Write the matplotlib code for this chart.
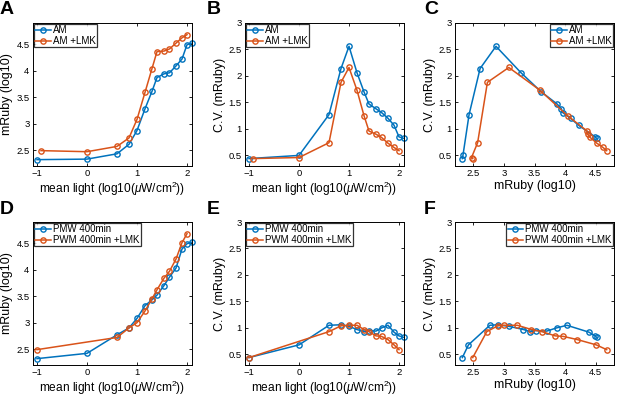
import matplotlib
matplotlib.use('Agg')
import matplotlib.pyplot as plt

plt.rcParams['font.family'] = ['Liberation Sans', 'DejaVu Sans']
plt.rcParams['mathtext.fontset'] = 'custom'
plt.rcParams['mathtext.it'] = 'Liberation Sans:italic'
plt.rcParams['mathtext.rm'] = 'Liberation Sans'

blue = '#0072BD'
orange = '#D95319'

# light levels (log10 uW/cm2)
light_am = [-1, 0, 0.6, 0.84, 1.0, 1.16, 1.3, 1.4, 1.54, 1.65, 1.78, 1.9, 2.0, 2.1]
light_am_lmk = [-0.92, 0, 0.6, 0.84, 1.0, 1.16, 1.3, 1.4, 1.54, 1.65, 1.78, 1.9, 2.0]
light_pwm = [-1, 0, 0.6, 0.84, 1.0, 1.16, 1.3, 1.4, 1.54, 1.65, 1.78, 1.9, 2.0, 2.1]
light_pwm_lmk = [-1, 0.6, 0.84, 1.0, 1.16, 1.3, 1.4, 1.54, 1.65, 1.78, 1.9, 2.0]

# mRuby (log10)
ruby_am = [2.32, 2.33, 2.43, 2.61, 2.87, 3.28, 3.61, 3.87, 3.94, 3.96, 4.09, 4.22, 4.49, 4.52]
ruby_am_lmk = [2.49, 2.47, 2.57, 2.73, 3.08, 3.59, 4.04, 4.36, 4.37, 4.41, 4.52, 4.62, 4.68]
ruby_pwm = [2.32, 2.42, 2.77, 2.90, 3.08, 3.32, 3.43, 3.52, 3.70, 3.86, 4.03, 4.39, 4.49, 4.52]
ruby_pwm_lmk = [2.49, 2.72, 2.90, 3.00, 3.22, 3.45, 3.62, 3.84, 3.97, 4.20, 4.51, 4.68]

# C.V.
cv_am = [0.44, 0.50, 1.27, 2.14, 2.56, 2.06, 1.70, 1.47, 1.38, 1.31, 1.20, 1.07, 0.85, 0.82]
cv_am_lmk = [0.44, 0.46, 0.74, 1.88, 2.16, 1.73, 1.25, 0.96, 0.90, 0.84, 0.73, 0.65, 0.59]
cv_pwm = [0.44, 0.68, 1.05, 1.06, 1.03, 0.97, 0.93, 0.95, 0.94, 1.00, 1.05, 0.92, 0.85, 0.82]
cv_pwm_lmk = [0.44, 0.93, 1.04, 1.05, 1.05, 0.97, 0.93, 0.85, 0.84, 0.78, 0.68, 0.59]

labels_am = ['AM', 'AM +LMK']
labels_pwm = ['PMW 400min', 'PWM 400min +LMK']

light_label = r'mean light (log10($\mu$W/cm$^2$))'

fig = plt.figure(figsize=(6.17, 3.97), dpi=100)

W, H = 617.0, 397.0
lefts = [33, 245, 455]
tops = [23, 222]
aw, ah = 159, 143


def make_ax(col, row):
    l = lefts[col] / W
    b = (H - tops[row] - ah) / H
    ax = fig.add_axes([l, b, aw / W, ah / H])
    ax.tick_params(direction='in', top=True, right=True, labelsize=6.8,
                   length=2.5, width=0.6, pad=2.5)
    for s in ax.spines.values():
        s.set_linewidth(0.7)
    return ax


def draw(ax, xs, ys, labels, loc):
    for x, y, c, lab in zip(xs, ys, [blue, orange], labels):
        ax.plot(x, y, '-o', color=c, lw=1.1, ms=3.8, mfc='none', mew=1.0,
                label=lab, clip_on=False)
    leg = ax.legend(loc=loc, fontsize=7, fancybox=False, edgecolor='black',
                    borderpad=0.15, handlelength=1.6, handletextpad=0.2,
                    labelspacing=0.05, borderaxespad=0.1)
    leg.get_frame().set_linewidth(0.9)


rows = [
    (light_am, light_am_lmk, ruby_am, ruby_am_lmk, cv_am, cv_am_lmk, labels_am, 'ABC'),
    (light_pwm, light_pwm_lmk, ruby_pwm, ruby_pwm_lmk, cv_pwm, cv_pwm_lmk, labels_pwm, 'DEF'),
]

for r, (lx1, lx2, r1, r2, c1, c2, labs, letters) in enumerate(rows):
    ax = make_ax(0, r)
    draw(ax, [lx1, lx2], [r1, r2], labs, 'upper left')
    ax.set_xlim(-1.08, 2.1)
    ax.set_ylim(2.2, 4.9)
    ax.set_xticks([-1, 0, 1, 2])
    ax.set_yticks([2.5, 3, 3.5, 4, 4.5])
    ax.set_yticklabels(['2.5', '3', '3.5', '4', '4.5'])
    ax.set_xlabel(light_label, fontsize=8.6, labelpad=1)
    ax.set_ylabel('mRuby (log10)', fontsize=9, labelpad=2)

    ax = make_ax(1, r)
    draw(ax, [lx1, lx2], [c1, c2], labs, 'upper left')
    ax.set_xlim(-1.08, 2.1)
    ax.set_ylim(0.3, 3)
    ax.set_xticks([-1, 0, 1, 2])
    ax.set_yticks([0.5, 1, 1.5, 2, 2.5, 3])
    ax.set_yticklabels(['0.5', '1', '1.5', '2', '2.5', '3'])
    ax.set_xlabel(light_label, fontsize=8.6, labelpad=1)
    ax.set_ylabel('C.V. (mRuby)', fontsize=9, labelpad=2)

    ax = make_ax(2, r)
    draw(ax, [r1, r2], [c1, c2], labs, 'upper right')
    ax.set_xlim(2.2, 4.8)
    ax.set_ylim(0.3, 3)
    ax.set_xticks([2.5, 3, 3.5, 4, 4.5])
    ax.set_xticklabels(['2.5', '3', '3.5', '4', '4.5'])
    ax.set_yticks([0.5, 1, 1.5, 2, 2.5, 3])
    ax.set_yticklabels(['0.5', '1', '1.5', '2', '2.5', '3'])
    ax.set_xlabel('mRuby (log10)', fontsize=9, labelpad=1)
    ax.set_ylabel('C.V. (mRuby)', fontsize=9, labelpad=2)

    for letter, xp in zip(letters, [0, 207, 424]):
        fig.text(xp / W, 1 - (1 + 200 * r) / H, letter, fontsize=14, fontweight='bold',
                 va='top', ha='left')

fig.savefig('out.png', dpi=100)
